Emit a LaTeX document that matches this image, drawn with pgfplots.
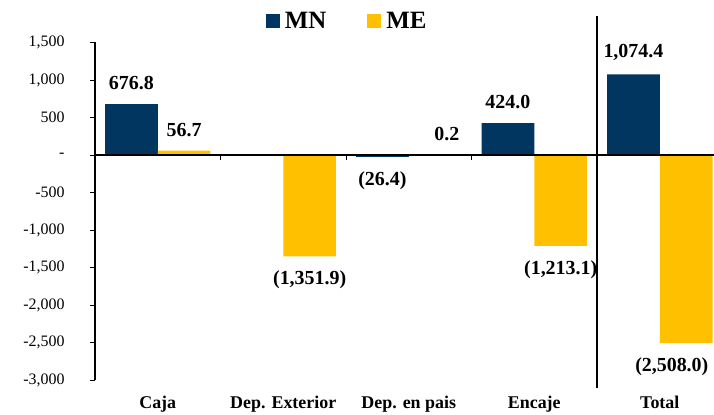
\documentclass[border=0pt]{standalone}
\usepackage{pgfplots}
\pgfplotsset{compat=1.18}
\usepackage{fontspec}
\setmainfont{Liberation Serif}
\definecolor{mn}{RGB}{0,54,96}
\definecolor{me}{RGB}{255,192,0}
\begin{document}
\begin{tikzpicture}
\begin{axis}[
  scale only axis, width=619bp, height=337.5bp,
  xmin=-0.5, xmax=4.432, ymin=-3000, ymax=1500,
  axis y line*=left, axis x line*=bottom,
  x axis line style={draw=none},
  y axis line style={line width=1.6bp},
  xtick={0,1,2,3,4},
  xticklabels={Caja, Dep. Exterior, Dep. en pais, Encaje, Total},
  x tick style={draw=none},
  xticklabel style={font=\bfseries\fontsize{18}{21}\selectfont, yshift=-8bp},
  ytick={-3000,-2500,-2000,-1500,-1000,-500,0,500,1000,1500},
  yticklabels={{-3,000},{-2,500},{-2,000},{-1,500},{-1,000},{-500},{-},{500},{1,000},{1,500}},
  yticklabel style={font=\fontsize{16}{19}\selectfont, xshift=-22bp},
  tick align=outside, major tick length=5bp,
  y tick style={black, line width=0.8bp},
  /pgf/number format/assume math mode=true,
  clip=false,
  nodes near coords,
  point meta=explicit symbolic,
  visualization depends on={value \thisrow{anc} \as \myanc},
  visualization depends on={value \thisrow{dx} \as \mydx},
  every node near coord/.append style={font=\bfseries\fontsize{20}{23}\selectfont,
     inner ysep=14bp, black, anchor=\myanc, xshift=\mydx bp},
  legend style={at={(0.41,1.064)}, anchor=center, draw=none, fill=none,
    legend columns=2, font=\bfseries\fontsize{25}{28}\selectfont,
    nodes={inner xsep=5bp},
    /tikz/every even column/.append style={column sep=36bp}},
  legend image code/.code={\fill[#1] (0bp,-7bp) rectangle (14bp,7bp);},
]
\addplot[ybar, bar width=0.42, bar shift=-0.21, fill=mn, draw=none] table[meta=lab] {
x y lab anc dx
0 676.8 676.8 south -26.4
2 -26.4 (26.4) north -26.4
3 424.0 424.0 south -26.4
4 1074.4 1,074.4 south -26.4
};
\addlegendentry{MN}
\addplot[ybar, bar width=0.42, bar shift=0.21, fill=me, draw=none] table[meta=lab] {
x y lab anc dx
0 56.7 56.7 south 26.4
1 -1351.9 (1,351.9) north 26.4
2 0.2 0.2 south 38
3 -1213.1 (1,213.1) north 26.4
4 -2508.0 (2,508.0) north 12
};
\addlegendentry{ME}
\draw[line width=2bp] (axis cs:-0.5,0) -- (axis cs:4.432,0);
\pgfplotsinvokeforeach{0.5,1.5,2.5}{\draw[line width=1bp] (axis cs:#1,0) -- ([yshift=-5bp]axis cs:#1,0);}
\draw[line width=2bp] (axis cs:3.5,1856) -- (axis cs:3.5,-3107);
\end{axis}
\pgfresetboundingbox
\useasboundingbox (-95bp,-35bp) rectangle (619bp,380bp);
\end{tikzpicture}
\end{document}
